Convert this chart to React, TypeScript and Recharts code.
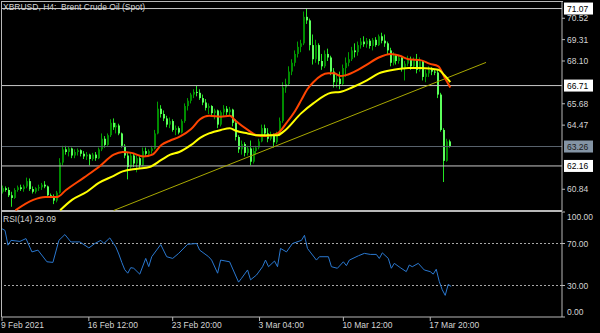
import { ComposedChart, Bar, Line, XAxis, YAxis, ReferenceLine } from 'recharts'

// H4 candles, XBRUSD, 9 Feb - 18 Mar 2021
const opens = [
  60.7, 60.9, 60.8, 60.5, 60.35, 60.8, 60.95, 60.85, 61.0, 61.3,
  60.85, 60.7, 60.9, 60.95, 61.1, 61.0, 60.5, 60.45, 60.2, 60.65,
  62.35, 63.1, 62.95, 63.15, 62.75, 62.95, 63.05, 62.85, 62.7, 62.8,
  62.55, 62.8, 62.6, 63.1, 63.7, 63.35, 63.9, 64.6, 64.35, 64.45,
  64.0, 63.3, 62.75, 62.1, 62.75, 62.3, 62.6, 62.2, 63.0, 62.85,
  63.0, 63.15, 64.0, 65.4, 65.1, 64.85, 64.5, 64.7, 64.2, 64.3,
  64.05, 64.7, 65.55, 65.85, 66.2, 66.35, 66.3, 66.0, 65.75, 65.45,
  65.55, 65.15, 65.3, 64.5, 65.2, 65.4, 65.2, 65.35, 64.6, 63.8,
  63.1, 63.4, 62.9, 63.15, 62.4, 63.0, 63.2, 63.55, 64.3, 64.0,
  63.7, 63.95, 63.5, 63.9, 64.7, 66.6, 66.8, 67.5, 68.0, 68.5,
  68.9, 69.1, 70.6, 70.4, 69.0, 68.2, 69.0, 68.1, 67.8, 68.5,
  68.3, 67.5, 66.9, 67.1, 66.8, 67.7, 68.0, 68.2, 68.7, 68.6,
  69.0, 69.2, 69.05, 69.25, 68.95, 69.3, 69.0, 69.5, 69.25, 69.1,
  68.7, 68.0, 68.4, 68.1, 68.3, 67.7, 67.95, 68.2, 67.8, 68.2,
  67.6, 68.1, 67.2, 67.4, 67.6, 67.5, 67.45, 66.2, 64.2, 62.45,
  63.55,
]
const highs = [
  61.05, 61.0, 60.95, 60.7, 60.9, 61.05, 61.1, 61.1, 61.5, 61.45,
  61.0, 60.95, 61.1, 61.2, 61.3, 61.05, 60.6, 60.55, 60.75, 62.6,
  63.3, 63.3, 63.25, 63.2, 63.1, 63.15, 63.1, 63.0, 62.95, 62.85,
  62.9, 62.95, 63.2, 64.0, 63.85, 64.0, 64.8, 64.85, 64.6, 64.55,
  64.05, 63.4, 62.9, 62.9, 62.85, 62.75, 62.7, 63.2, 63.2, 63.1,
  63.3, 64.2, 65.8, 65.6, 65.3, 65.0, 64.9, 64.8, 64.45, 64.4,
  64.8, 65.7, 66.0, 66.3, 66.5, 66.7, 66.5, 66.2, 65.95, 65.7,
  65.6, 65.4, 65.35, 65.3, 65.6, 65.55, 65.5, 65.4, 64.8, 63.9,
  63.6, 63.5, 63.3, 63.6, 63.2, 63.3, 63.7, 64.5, 64.5, 64.3,
  64.1, 64.0, 64.1, 64.9, 66.9, 67.1, 67.8, 68.2, 68.7, 69.2,
  69.3, 70.9, 71.05, 70.5, 69.6, 69.3, 69.1, 68.5, 68.7, 68.8,
  68.4, 67.7, 67.3, 67.5, 67.9, 68.3, 68.6, 68.9, 69.1, 69.2,
  69.4, 69.5, 69.4, 69.35, 69.4, 69.45, 69.6, 69.7, 69.6, 69.2,
  68.85, 68.6, 68.5, 68.45, 68.35, 68.1, 68.4, 68.35, 68.3, 68.5,
  68.3, 68.15, 67.6, 67.8, 67.75, 67.65, 67.6, 66.3, 64.3, 63.7,
  63.65,
]
const lows = [
  60.6, 60.7, 60.4, 59.85, 60.3, 60.7, 60.75, 60.7, 60.9, 60.75,
  60.6, 60.6, 60.75, 60.8, 60.9, 60.4, 60.35, 60.0, 60.1, 60.6,
  62.2, 62.8, 62.7, 62.6, 62.6, 62.75, 62.7, 62.55, 62.5, 62.2,
  62.45, 62.45, 62.55, 63.0, 63.2, 63.3, 63.8, 64.2, 64.0, 63.9,
  63.2, 62.6, 61.4, 62.0, 62.1, 61.8, 62.05, 62.15, 62.7, 62.7,
  62.85, 63.1, 63.95, 64.9, 64.7, 64.35, 64.3, 64.1, 63.9, 63.95,
  64.0, 64.6, 65.3, 65.7, 66.0, 66.1, 65.9, 65.6, 65.3, 65.1,
  65.0, 64.8, 64.3, 64.4, 65.0, 65.05, 65.0, 64.4, 63.6, 62.9,
  62.8, 62.7, 62.75, 62.2, 62.3, 62.8, 63.1, 63.5, 63.9, 63.5,
  63.6, 63.2, 63.4, 63.85, 64.6, 66.3, 66.7, 67.3, 67.8, 68.3,
  68.6, 69.0, 70.2, 68.7, 67.9, 68.0, 67.9, 67.6, 67.7, 68.1,
  67.3, 66.6, 66.6, 66.5, 66.7, 67.2, 67.8, 68.1, 68.3, 68.4,
  68.8, 68.9, 68.85, 68.8, 68.7, 68.9, 68.95, 69.1, 68.9, 68.5,
  67.8, 67.85, 67.9, 67.95, 67.5, 67.0, 67.8, 67.6, 67.75, 67.4,
  67.5, 67.0, 66.9, 67.2, 67.3, 67.3, 66.0, 64.1, 61.25, 62.4,
  63.2,
]
const closes = [
  60.9, 60.8, 60.5, 60.35, 60.8, 60.95, 60.85, 61.0, 61.3, 60.85,
  60.7, 60.9, 60.95, 61.1, 61.0, 60.5, 60.45, 60.2, 60.65, 62.35,
  63.1, 62.95, 63.15, 62.75, 62.95, 63.05, 62.85, 62.7, 62.8, 62.55,
  62.8, 62.6, 63.1, 63.7, 63.35, 63.9, 64.6, 64.35, 64.45, 64.0,
  63.3, 62.75, 62.1, 62.75, 62.3, 62.6, 62.2, 63.0, 62.85, 63.0,
  63.15, 64.0, 65.4, 65.1, 64.85, 64.5, 64.7, 64.2, 64.3, 64.05,
  64.7, 65.55, 65.85, 66.2, 66.35, 66.3, 66.0, 65.75, 65.45, 65.55,
  65.15, 65.3, 64.5, 65.2, 65.4, 65.2, 65.35, 64.6, 63.8, 63.1,
  63.4, 62.9, 63.15, 62.4, 63.0, 63.2, 63.55, 64.3, 64.0, 63.7,
  63.95, 63.5, 63.9, 64.7, 66.6, 66.8, 67.5, 68.0, 68.5, 68.9,
  69.1, 70.6, 70.4, 69.0, 68.2, 69.0, 68.1, 67.8, 68.5, 68.3,
  67.5, 66.9, 67.1, 66.8, 67.7, 68.0, 68.2, 68.7, 68.6, 69.0,
  69.2, 69.05, 69.25, 68.95, 69.3, 69.0, 69.5, 69.25, 69.1, 68.7,
  68.0, 68.4, 68.1, 68.3, 67.7, 67.95, 68.2, 67.8, 68.2, 67.6,
  68.1, 67.2, 67.4, 67.6, 67.5, 67.45, 66.2, 64.2, 62.45, 63.55,
  63.26,
]

// moving averages as [bar, value]
const fastMa: [number, number][] = [
  [4, 59.65], [10, 60.24], [14, 60.4], [18, 60.4], [21, 60.8], [27, 61.5], [32, 62.1],
  [37, 62.8], [40, 62.95], [43, 62.9], [47, 62.7], [50, 62.8], [53, 63.35], [56, 63.6],
  [59, 63.8], [63, 64.25], [66, 64.8], [69, 65.0], [73, 64.95], [76, 65.0], [78, 64.7],
  [82, 64.2], [85, 63.9], [88, 63.85], [92, 64.0], [95, 64.6], [98, 65.3], [100, 65.9],
  [102, 66.5], [104, 66.9], [109, 67.4], [111, 67.4], [113, 67.25], [115, 67.3],
  [119, 67.6], [122, 67.9], [126, 68.3], [130, 68.5], [133, 68.4], [136, 68.2],
  [140, 68.15], [143, 67.95], [146, 67.8], [148, 67.2], [150, 66.6],
]
const slowMa: [number, number][] = [
  [19, 59.65], [23, 60.24], [28, 60.7], [32, 61.2], [37, 61.6], [40, 61.85], [45, 62.0],
  [49, 62.1], [53, 62.5], [56, 62.8], [59, 62.95], [63, 63.35], [66, 63.75], [69, 64.0],
  [73, 64.2], [76, 64.3], [78, 64.15], [82, 64.0], [85, 63.9], [92, 63.9], [94, 64.1],
  [100, 65.15], [104, 65.7], [110, 66.3], [113, 66.35], [117, 66.6], [122, 67.0],
  [126, 67.4], [131, 67.6], [136, 67.7], [140, 67.7], [146, 67.6], [148, 67.3], [150, 66.9],
]
const rsi: [number, number][] = [
  [0, 84], [1, 82.5], [2, 68.4], [3, 73], [6, 72], [8, 74.7], [10, 62], [12, 63.7],
  [15, 52.6], [17, 52], [19, 73], [21, 78.5], [23, 71.5], [26, 71.5], [29, 65.8],
  [31, 70], [33, 73], [34, 70], [36, 75.3], [38, 66.8], [39, 60], [40, 52], [41, 45],
  [42, 41.7], [43, 47], [44, 46.4], [46, 40.8], [48, 55.8], [49, 48], [50, 57.4],
  [53, 69], [55, 57.4], [57, 55.8], [59, 60.6], [62, 69.3], [65, 70], [66, 63.7],
  [69, 57.4], [70, 54.2], [72, 41.7], [73, 54.2], [76, 52.6], [79, 33.2], [80, 36.9],
  [82, 44.8], [83, 35.4], [85, 40], [87, 47.9], [88, 54.2], [89, 47.9], [91, 53.3],
  [92, 47.9], [93, 65.3], [95, 62], [97, 70], [100, 73], [101, 77.8], [102, 65.3],
  [105, 54.2], [106, 57.4], [109, 57.4], [110, 47.9], [112, 46.4], [114, 52.6],
  [115, 48.9], [116, 54.2], [119, 58.3], [121, 60.6], [123, 59.6], [125, 59.6],
  [126, 55.8], [127, 61.1], [129, 55.8], [130, 46.4], [131, 51.1], [133, 47],
  [135, 43.2], [136, 49.5], [137, 47.9], [139, 51.1], [141, 44.8], [143, 43.2],
  [144, 40.8], [145, 45.5], [146, 34], [147, 26], [148, 20.6], [149, 31], [150, 29.09],
]

const trendLine = [{ x: 37, y: 59.64 }, { x: 162, y: 68.02 }]
const levels = [71.07, 66.71, 62.16]
const lastPrice = 63.26
const priceTicks = [60.84, 64.47, 65.68, 68.1, 69.31, 70.52]
const rsiTicks = [0, 30, 70, 100]
const rsiLevels = [70, 30]
const timeTicks = [0, 29, 57, 86, 114, 143]
const timeLabels = ['9 Feb 2021', '16 Feb 12:00', '23 Feb 20:00', '3 Mar 04:00', '10 Mar 12:00', '17 Mar 20:00']
const SLOTS = 188

const rows: any[] = Array.from({ length: SLOTS }, (_, i) => ({ idx: i }))
closes.forEach((c, i) => {
  rows[i].open = opens[i]
  rows[i].high = highs[i]
  rows[i].low = lows[i]
  rows[i].close = c
  rows[i].range = [lows[i], highs[i]]
})
fastMa.forEach(([i, v]) => (rows[i].fast = v))
slowMa.forEach(([i, v]) => (rows[i].slow = v))
rsi.forEach(([i, v]) => (rows[i].rsi = v))

const FONT = "'Liberation Sans', Arial, sans-serif"
const GRID = '#b8b8b8'
const TEXT = '#d4d4d4'

function Candle(props: any) {
  const { x, y, width, height, payload } = props
  if (!payload || payload.high == null) return null
  const { open, close, high, low } = payload
  const span = high - low || 1
  const py = (v: number) => y + ((high - v) / span) * height
  const cx = Math.round(x + width / 2)
  const up = close >= open
  const top = py(Math.max(open, close))
  const bot = py(Math.min(open, close))
  return (
    <g>
      <line x1={cx - 0.5} x2={cx - 0.5} y1={y} y2={y + height} stroke={up ? '#00a000' : '#22e622'} strokeWidth={1} />
      <rect x={cx - 1} y={top} width={2} height={Math.max(1, bot - top)} fill={up ? '#008c00' : '#5cff5c'} />
    </g>
  )
}

function PriceTick({ x, y, payload }: any) {
  return (
    <text x={x} y={y} dy={3} fill={TEXT} fontSize={8.5} fontFamily={FONT} textAnchor="start">
      {Number(payload.value).toFixed(2)}
    </text>
  )
}

function RsiTick({ x, y, payload }: any) {
  const v = payload.value
  const dy = v === 100 ? 8 : v === 0 ? -2 : 3
  return (
    <text x={x} y={y} dy={dy} fill={TEXT} fontSize={8.5} fontFamily={FONT} textAnchor="start">
      {Number(v).toFixed(2)}
    </text>
  )
}

function TimeTick({ x, y, payload }: any) {
  const k = timeTicks.indexOf(payload.value)
  return (
    <text x={x - 1} y={y + 5} fill={TEXT} fontSize={8.5} fontFamily={FONT} textAnchor="start">
      {timeLabels[k]}
    </text>
  )
}

const tag = (value: number, bg: string, fg: string) => (props: any) => {
  const vb = props.viewBox
  if (!vb) return null
  const x = vb.x + vb.width + 2
  const y = vb.y
  return (
    <g>
      <rect x={x} y={y - 6} width={29} height={12} fill={bg} />
      <text x={x + 3} y={y + 3} fill={fg} fontSize={8.5} fontFamily={FONT}>
        {value.toFixed(2)}
      </text>
    </g>
  )
}

export default function App() {
  return (
    <div style={{ position: 'absolute', left: 0, top: 0, width: 600, height: 333, background: '#000', overflow: 'hidden' }}>
      <div style={{ position: 'absolute', left: 1, top: 1, width: 561, height: 209, borderLeft: `1px solid ${GRID}`, borderTop: `1px solid ${GRID}` }} />
      <div style={{ position: 'absolute', left: 1, top: 210, width: 561, height: 2, background: GRID }} />
      <div style={{ position: 'absolute', left: 1, top: 212, width: 1, height: 105, background: GRID }} />

      <div style={{ position: 'absolute', left: 0, top: 0 }}>
        <ComposedChart width={600} height={212} data={rows} margin={{ top: 2, right: 0, bottom: 1, left: 2 }}>
          <XAxis dataKey="idx" type="category" hide />
          <YAxis
            orientation="right"
            width={38}
            domain={[59.61, 71.44]}
            allowDataOverflow
            ticks={priceTicks}
            interval={0}
            tick={<PriceTick />}
            tickSize={3}
            tickLine={{ stroke: GRID }}
            axisLine={{ stroke: GRID }}
          />
          {levels.map((v) => (
            <ReferenceLine key={v} y={v} stroke="#c8c8c8" label={tag(v, '#ffffff', '#000000')} />
          ))}
          <ReferenceLine y={lastPrice} stroke="#5a646e" label={tag(lastPrice, '#8494a4', '#1a1a1a')} />
          <ReferenceLine segment={trendLine} stroke="#a8a800" />
          <Bar dataKey="range" shape={<Candle />} isAnimationActive={false} />
          <Line type="monotone" dataKey="fast" stroke="#ff4500" strokeWidth={2} dot={false} connectNulls isAnimationActive={false} />
          <Line type="monotone" dataKey="slow" stroke="#ffff00" strokeWidth={2} dot={false} connectNulls isAnimationActive={false} />
        </ComposedChart>
      </div>

      <div style={{ position: 'absolute', left: 0, top: 211 }}>
        <ComposedChart width={600} height={122} data={rows} margin={{ top: 1, right: 0, bottom: 0, left: 2 }}>
          <XAxis
            dataKey="idx"
            type="category"
            ticks={timeTicks}
            interval={0}
            height={16}
            tick={<TimeTick />}
            tickSize={4}
            tickLine={{ stroke: GRID }}
            axisLine={{ stroke: GRID }}
          />
          <YAxis
            orientation="right"
            width={38}
            domain={[0, 100]}
            ticks={rsiTicks}
            interval={0}
            tick={<RsiTick />}
            tickSize={3}
            tickLine={{ stroke: GRID }}
            axisLine={{ stroke: GRID }}
          />
          {rsiLevels.map((v) => (
            <ReferenceLine key={v} y={v} stroke="#a8a8a8" strokeDasharray="2 2" />
          ))}
          <Line type="linear" dataKey="rsi" stroke="#2a78d0" strokeWidth={1} dot={false} connectNulls isAnimationActive={false} />
        </ComposedChart>
      </div>

      <div style={{ position: 'absolute', left: 3, top: 2, color: TEXT, fontSize: 8.5, fontFamily: FONT, lineHeight: '10px', whiteSpace: 'pre' }}>
        {'XBRUSD, H4:  Brent Crude Oil (Spot)'}
      </div>
      <div style={{ position: 'absolute', left: 3, top: 214, color: TEXT, fontSize: 8.5, fontFamily: FONT, lineHeight: '10px' }}>
        RSI(14) 29.09
      </div>
    </div>
  )
}
